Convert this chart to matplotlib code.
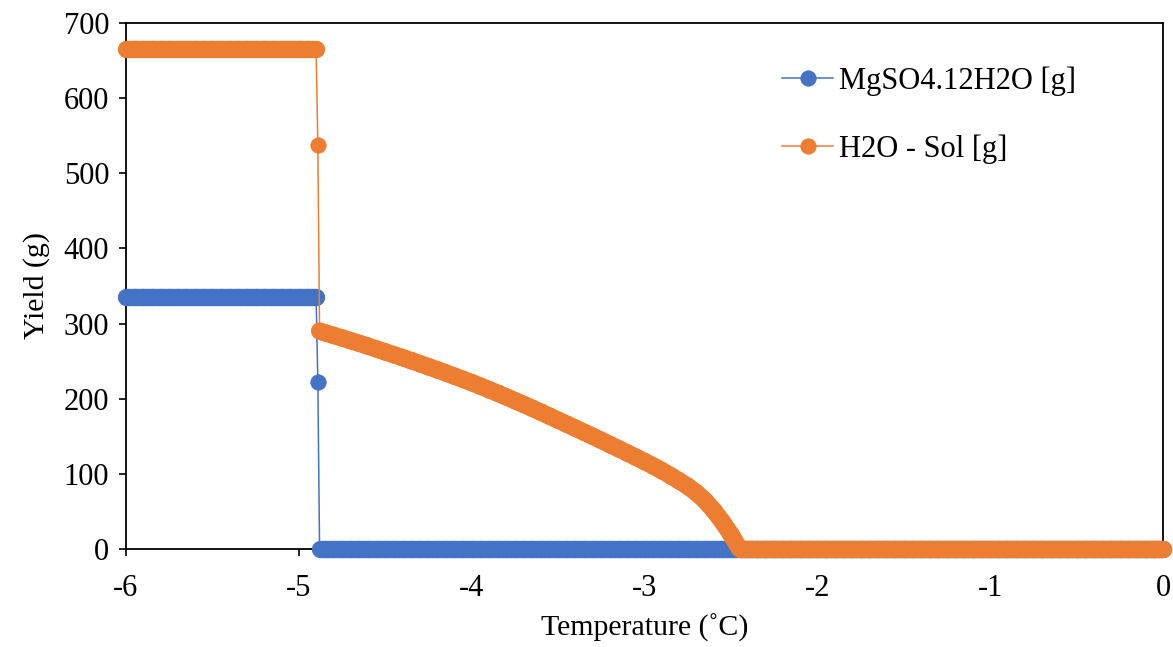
import matplotlib
matplotlib.use("Agg")
import matplotlib.pyplot as plt
import numpy as np
from matplotlib.collections import LineCollection

plt.rcParams["font.family"] = ["Liberation Serif", "DejaVu Serif"]

# Temperature grid (°C)
temperature = [
    -6.00, -5.95, -5.90, -5.85, -5.80, -5.75, -5.70, -5.65, -5.60, -5.55,
    -5.50, -5.45, -5.40, -5.35, -5.30, -5.25, -5.20, -5.15, -5.10, -5.05,
    -5.00, -4.95, -4.90, -4.89, -4.88,
    -4.85, -4.80, -4.75, -4.70, -4.65, -4.60, -4.55, -4.50, -4.45, -4.40,
    -4.35, -4.30, -4.25, -4.20, -4.15, -4.10, -4.05, -4.00, -3.95, -3.90,
    -3.85, -3.80, -3.75, -3.70, -3.65, -3.60, -3.55, -3.50, -3.45, -3.40,
    -3.35, -3.30, -3.25, -3.20, -3.15, -3.10, -3.05, -3.00, -2.95, -2.90,
    -2.85, -2.80, -2.75, -2.70, -2.65, -2.60, -2.55, -2.50, -2.45, -2.40,
    -2.35, -2.30, -2.25, -2.20, -2.15, -2.10, -2.05, -2.00, -1.95, -1.90,
    -1.85, -1.80, -1.75, -1.70, -1.65, -1.60, -1.55, -1.50, -1.45, -1.40,
    -1.35, -1.30, -1.25, -1.20, -1.15, -1.10, -1.05, -1.00, -0.95, -0.90,
    -0.85, -0.80, -0.75, -0.70, -0.65, -0.60, -0.55, -0.50, -0.45, -0.40,
    -0.35, -0.30, -0.25, -0.20, -0.15, -0.10, -0.05, 0.00,
]

# MgSO4.12H2O yield (g)
mgso4_12h2o = [
    335, 335, 335, 335, 335, 335, 335, 335, 335, 335,
    335, 335, 335, 335, 335, 335, 335, 335, 335, 335,
    335, 335, 335, 222, 0,
    0, 0, 0, 0, 0, 0, 0, 0, 0, 0,
    0, 0, 0, 0, 0, 0, 0, 0, 0, 0,
    0, 0, 0, 0, 0, 0, 0, 0, 0, 0,
    0, 0, 0, 0, 0, 0, 0, 0, 0, 0,
    0, 0, 0, 0, 0, 0, 0, 0, 0, 0,
    0, 0, 0, 0, 0, 0, 0, 0, 0, 0,
    0, 0, 0, 0, 0, 0, 0, 0, 0, 0,
    0, 0, 0, 0, 0, 0, 0, 0, 0, 0,
    0, 0, 0, 0, 0, 0, 0, 0, 0, 0,
    0, 0, 0, 0, 0, 0, 0, 0,
]

# Water in solution (g)
h2o_sol = [
    665, 665, 665, 665, 665, 665, 665, 665, 665, 665,
    665, 665, 665, 665, 665, 665, 665, 665, 665, 665,
    665, 665, 665, 538, 290,
    287.8, 284.3, 280.8, 277.2, 273.6, 269.9, 266.1, 262.3, 258.5, 254.6,
    250.7, 246.7, 242.6, 238.5, 234.3, 230.0, 225.7, 221.4, 216.8, 212.1,
    207.3, 202.4, 197.4, 192.4, 187.3, 182.1, 176.8, 171.4, 166.1, 160.8,
    155.4, 150.0, 144.5, 139.0, 133.4, 127.8, 122.1, 116.4, 110.5, 104.3,
    97.7, 90.7, 83.4, 74.9, 64.4, 51.4, 36.4, 19.4, 0, 0,
    0, 0, 0, 0, 0, 0, 0, 0, 0, 0,
    0, 0, 0, 0, 0, 0, 0, 0, 0, 0,
    0, 0, 0, 0, 0, 0, 0, 0, 0, 0,
    0, 0, 0, 0, 0, 0, 0, 0, 0, 0,
    0, 0, 0, 0, 0, 0, 0, 0,
]

x_ticks = [-6, -5, -4, -3, -2, -1, 0]
y_ticks = [0, 100, 200, 300, 400, 500, 600, 700]

BLUE = "#4472C4"
ORANGE = "#ED7D31"
MARKER_PT = 11.2
MARKER_EDGE = 0.4
FS = 22

fig = plt.figure(figsize=(11.73, 6.47), dpi=100)
ax = fig.add_axes([0.1074, 0.1515, 0.8841, 0.813])
ax.set_xlim(-6, 0)
ax.set_ylim(0, 700)


def draw_series(x, y, color, label, z):
    """Markers on every point joined by a thin line; densely packed
    neighbouring markers merge into one continuous band."""
    x = np.asarray(x, float)
    y = np.asarray(y, float)
    ax.plot(x, y, color=color, marker="o", markersize=MARKER_PT,
            markerfacecolor=color, markeredgecolor=color,
            markeredgewidth=MARKER_EDGE, linewidth=1.1, label=label,
            zorder=z, clip_on=False)
    pix = ax.transData.transform(np.column_stack([x, y]))
    gap = np.hypot(*np.diff(pix, axis=0).T)
    diam_px = MARKER_PT * fig.dpi / 72.0
    segs = [[(x[i], y[i]), (x[i + 1], y[i + 1])]
            for i in range(len(x) - 1) if gap[i] < 1.8 * diam_px]
    band = LineCollection(segs, colors=color,
                          linewidths=MARKER_PT + 1.3,
                          capstyle="round", joinstyle="round",
                          zorder=z + 0.5, clip_on=False)
    ax.add_collection(band)


draw_series(temperature, mgso4_12h2o, BLUE, "MgSO4.12H2O [g]", 3)
draw_series(temperature, h2o_sol, ORANGE, "H2O - Sol [g]", 4)

ax.set_xticks(x_ticks)
ax.set_yticks(y_ticks)
ax.set_xticklabels([str(t) for t in x_ticks])
ax.tick_params(axis="both", direction="out", length=5, width=1.2,
               labelsize=FS, colors="black")
ax.tick_params(axis="x", pad=13)
ax.tick_params(axis="y", pad=7)
for sp in ax.spines.values():
    sp.set_linewidth(1.3)
    sp.set_color("black")

ax.set_xlabel("Temperature (˚C)", fontsize=21.5, labelpad=8)
ax.set_ylabel("Yield (g)", fontsize=21.5, labelpad=10)

ax.legend(loc="upper left", bbox_to_anchor=(0.6065, 0.97),
          frameon=False, fontsize=FS, numpoints=1,
          handlelength=1.67, handletextpad=0.18, labelspacing=1.26)

fig.savefig("out.png", dpi=100, facecolor="white")
